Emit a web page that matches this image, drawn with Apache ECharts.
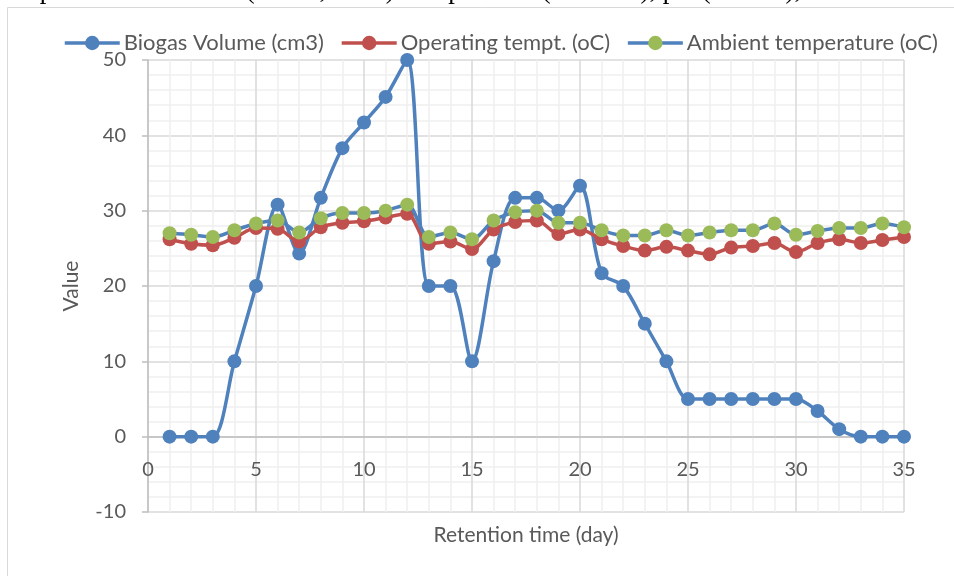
<!DOCTYPE html>
<html lang="en">
<head>
    <meta charset="UTF-8">
    <title>biogas-retention</title>
    <script src="https://cdn.jsdelivr.net/npm/echarts@6.0.0/dist/echarts.min.js"></script>
    <style>
        html, body { margin: 0; padding: 0; background: #fff; }
    </style>
</head>
<body>
<div id="main" style="width: 954px;height:576px;"></div>
<script>
    // 数据：按保留时间（天）
    var days = [1, 2, 3, 4, 5, 6, 7, 8, 9, 10, 11, 12, 13, 14, 15, 16, 17, 18,
        19, 20, 21, 22, 23, 24, 25, 26, 27, 28, 29, 30, 31, 32, 33, 34, 35];
    var biogas = [0, 0, 0, 10, 20, 30.8, 24.3, 31.7, 38.3, 41.7, 45.1, 50, 20, 20, 10, 23.3, 31.7, 31.7,
        30, 33.3, 21.7, 20, 15, 10, 5, 5, 5, 5, 5, 5, 3.4, 1, 0, 0, 0];
    var operating = [26.2, 25.6, 25.4, 26.4, 27.7, 27.6, 25.9, 27.8, 28.4, 28.6, 29.1, 29.6, 25.6, 25.9, 24.9, 27.5, 28.5, 28.7,
        26.9, 27.5, 26.2, 25.3, 24.7, 25.2, 24.7, 24.2, 25.1, 25.3, 25.7, 24.5, 25.7, 26.2, 25.7, 26.1, 26.5];
    var ambient = [27.0, 26.8, 26.5, 27.4, 28.3, 28.7, 27.1, 29.0, 29.7, 29.7, 30.0, 30.8, 26.5, 27.1, 26.2, 28.7, 29.8, 30.0,
        28.4, 28.4, 27.4, 26.7, 26.7, 27.4, 26.7, 27.1, 27.4, 27.4, 28.3, 26.8, 27.3, 27.7, 27.7, 28.3, 27.8];
    var seriesNames = ['Biogas Volume (cm3)', 'Operating tempt. (oC)', 'Ambient temperature (oC)'];

    function pairs(ys) {
        var out = [];
        for (var i = 0; i < days.length; i++) {
            out.push([days[i], ys[i]]);
        }
        return out;
    }

    var font = 'Lato';
    var textColor = '#595959';
    var blue = '#4f81bd';

    var chart = echarts.init(document.getElementById('main'));
    var option = {
        backgroundColor: '#fff',
        animation: false,
        legend: {
            top: 32,
            left: 63,
            width: 950,
            padding: 0,
            itemWidth: 55,
            itemHeight: 18,
            itemGap: 16,
            lineStyle: {width: 3.5},
            textStyle: {color: textColor, fontSize: 22, fontFamily: font, padding: [0, 0, 0, -1]},
            data: seriesNames
        },
        grid: {
            left: 148,
            right: 50,
            top: 60,
            bottom: 64,
            outerBoundsMode: 'none',
            containLabel: false
        },
        graphic: [
            {
                type: 'rect',
                shape: {x: 7.5, y: 7.5, width: 1000, height: 600},
                style: {fill: 'none', stroke: '#d9d9d9', lineWidth: 1},
                silent: true,
                z: -1
            },
            {
                type: 'text',
                left: -14,
                top: -22,
                style: {
                    text: 'um optimum conditions (STGS, 2008): temperature (30-35°C), pH (6.8-7.5), solid content',
                    font: '26.5px "Liberation Serif"',
                    fill: '#000'
                }
            }
        ],
        xAxis: {
            type: 'value',
            min: 0,
            max: 35,
            interval: 5,
            name: 'Retention time (day)',
            nameLocation: 'middle',
            nameGap: 13,
            nameTextStyle: {color: textColor, fontSize: 21, fontFamily: font},
            axisLine: {onZero: true, lineStyle: {color: '#bfbfbf', width: 1.5}},
            axisTick: {show: false},
            axisLabel: {color: textColor, fontSize: 20, fontFamily: font, inside: true, margin: 32},
            splitLine: {lineStyle: {color: '#d9d9d9', width: 1.5}},
            minorTick: {show: false, splitNumber: 5},
            minorSplitLine: {show: true, lineStyle: {color: '#f0f0f0', width: 1.5}}
        },
        yAxis: {
            type: 'value',
            min: -10,
            max: 50,
            interval: 10,
            name: 'Value',
            nameLocation: 'middle',
            nameGap: 66,
            nameTextStyle: {color: textColor, fontSize: 21, fontFamily: font},
            axisLine: {show: true, lineStyle: {color: '#bfbfbf', width: 1.5}},
            axisTick: {show: true, length: 6, lineStyle: {color: '#bfbfbf', width: 1.5}},
            axisLabel: {color: textColor, fontSize: 20, fontFamily: font, margin: 22},
            splitLine: {lineStyle: {color: '#d9d9d9', width: 1.5}},
            minorTick: {show: false, splitNumber: 5},
            minorSplitLine: {show: true, lineStyle: {color: '#f0f0f0', width: 1.5}}
        },
        series: [
            {
                name: seriesNames[0],
                type: 'line',
                smooth: 0.3,
                symbol: 'circle',
                symbolSize: 14,
                lineStyle: {color: blue, width: 3.5},
                itemStyle: {color: blue},
                data: pairs(biogas),
                z: 3
            },
            {
                name: seriesNames[1],
                type: 'line',
                smooth: 0.3,
                symbol: 'circle',
                symbolSize: 14,
                lineStyle: {color: '#c0504d', width: 3.5},
                itemStyle: {color: '#c0504d'},
                data: pairs(operating),
                z: 4
            },
            {
                name: seriesNames[2],
                type: 'line',
                smooth: 0.3,
                symbol: 'circle',
                symbolSize: 14,
                lineStyle: {color: blue, width: 3.5},
                itemStyle: {color: '#9bbb59'},
                data: pairs(ambient),
                z: 5
            }
        ]
    };
    chart.setOption(option);
</script>
</body>
</html>
